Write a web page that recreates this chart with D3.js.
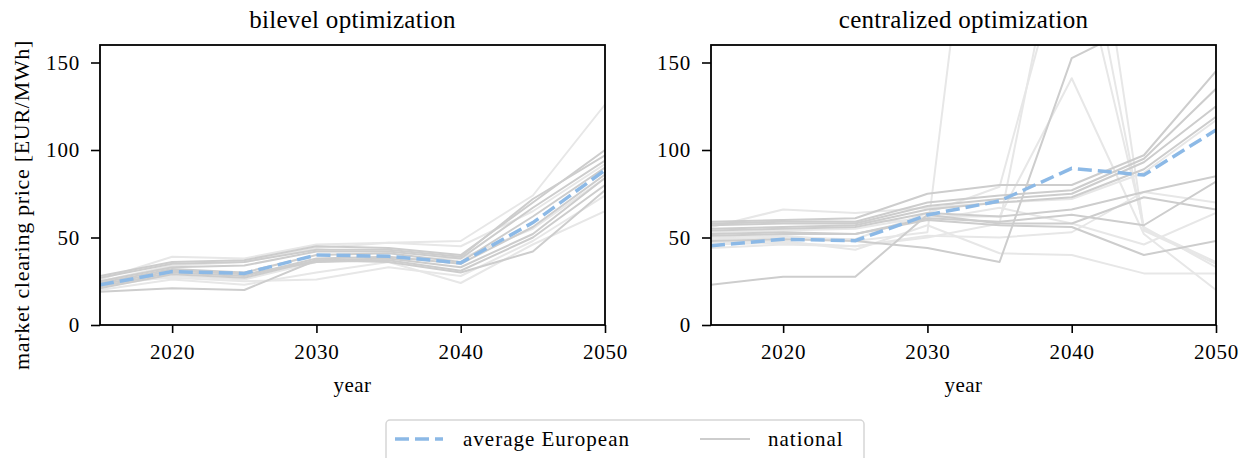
<!DOCTYPE html>
<html><head><meta charset="utf-8">
<script src="https://cdn.jsdelivr.net/npm/d3@7"></script>
<style>body{margin:0;background:#fff}svg{display:block}text{font-family:"Liberation Serif","DejaVu Serif",serif;fill:#000}</style>
</head><body><svg id="c" width="1246" height="458"></svg>
<script>
const years = [2015, 2020, 2025, 2030, 2035, 2040, 2045, 2050];
const xTicks = [2020, 2030, 2040, 2050];
const yTicks = [0, 50, 100, 150];
const panelTitles = ["bilevel optimization", "centralized optimization"];
const yLabel = "market clearing price [EUR/MWh]";
const xLabel = "year";
const legendLabels = ["average European", "national"];

// bilevel optimization
const avgBilevel = [23, 30.5, 29.5, 40, 39.3, 35.5, 58.5, 88.5];
const natBilevel = [
  [28, 36, 37, 45, 44, 40, 70, 100],
  [27, 35, 36, 43, 43, 39, 72, 97],
  [26, 39, 38, 46, 47, 48, 74, 126],
  [25, 33, 34, 42, 42, 38, 67, 94],
  [25, 34, 36, 44, 47, 45, 65, 92],
  [24, 32, 30, 40, 41, 36, 62, 90],
  [22, 30, 28, 38, 39, 35, 56, 86],
  [22, 28, 26, 36, 38, 38, 55, 84],
  [21, 29, 27, 37, 38, 33, 52, 84],
  [20, 26, 23, 30, 36, 24, 46, 65],
  [19, 21, 20, 37, 36, 30, 42, 77],
  [23, 31, 29, 36, 37, 31, 50, 80],
  [24, 27, 25, 26, 33, 28, 48, 74]
];
const shadeBilevel = [1, 1, 0, 1, 0, 1, 1, 0, 1, 0, 1, 1, 0];

// centralized optimization
const avgCentral = [45.3, 49, 48.2, 62.9, 70.9, 89.5, 85.7, 111.4];
const natCentral = [
  [59, 60, 61, 75, 80, 80, 97, 145],
  [58, 59, 59, 70, 74, 77, 95, 135],
  [57, 58, 58, 68, 72, 75, 93, 125],
  [55, 56, 57, 66, 70, 73, 89, 119],
  [56, 66, 64, 67, 70, 72, 87, 117],
  [54, 55, 56, 64, 62, 66, 76, 85],
  [52, 53, 52, 61, 59, 63, 57, 82],
  [51, 52, 52, 60, 57, 56, 40, 48],
  [50, 51, 48, 53, 388, 330, 55, 36],
  [49, 50, 49, 64, 79, 230, 56, 33],
  [48, 49, 48, 44, 36, 152.5, 173, 190],
  [47, 48, 43, 57, 41, 40, 29.5, 29.5],
  [23, 27.6, 27.6, 63, 58, 58, 73, 66],
  [53, 54, 55, 62, 62, 141, 52, 20],
  [46, 47, 45, 51, 50, 53, 76, 70],
  [44, 46, 45, 50, 58, 265, 54, 35],
  [57, 60, 59, 60, 67, 58, 46, 64]
];
const shadeCentral = [1, 1, 1, 1, 0, 1, 1, 1, 0, 0, 1, 0, 1, 0, 0, 0, 0];

const panels = [
  {title: panelTitles[0], avg: avgBilevel, nat: natBilevel, shade: shadeBilevel, left: 100},
  {title: panelTitles[1], avg: avgCentral, nat: natCentral, shade: shadeCentral, left: 711}
];

const svg = d3.select("#c");
const W = 505, topM = 45, H = 280;
const darkGray = "#cdcdcd", lightGray = "#e7e7e7", blue = "#8cb9e6";
const ff = '"Liberation Serif","DejaVu Serif",serif';

panels.forEach((p, i) => {
  const g = svg.append("g").attr("transform", `translate(${p.left},${topM})`);
  const x = d3.scaleLinear().domain([2015, 2050]).range([0, W]);
  const y = d3.scaleLinear().domain([0, 160]).range([H, 0]);
  const cid = "clip" + i;
  g.append("clipPath").attr("id", cid).append("rect").attr("width", W).attr("height", H);
  const line = d3.line().x((d, j) => x(years[j])).y(d => y(d));
  const lg = g.append("g").attr("clip-path", `url(#${cid})`);
  const order = d3.range(p.nat.length).sort((a, b) => p.shade[a] - p.shade[b]);
  order.forEach(k => {
    lg.append("path").datum(p.nat[k]).attr("d", line).attr("fill", "none")
      .attr("stroke", p.shade[k] ? darkGray : lightGray).attr("stroke-width", 2)
      .attr("stroke-linejoin", "round");
  });
  lg.append("path").datum(p.avg).attr("d", line).attr("fill", "none")
    .attr("stroke", blue).attr("stroke-width", 3.5).attr("stroke-dasharray", "14,6");

  const xa = g.append("g").attr("transform", `translate(0,${H})`)
    .call(d3.axisBottom(x).tickValues(xTicks).tickFormat(d3.format("d")).tickSize(8).tickPadding(11));
  const ya = g.append("g")
    .call(d3.axisLeft(y).tickValues(yTicks).tickSize(9).tickPadding(11));
  [xa, ya].forEach(a => {
    a.select(".domain").remove();
    a.selectAll("line").attr("stroke", "#000").attr("stroke-width", 1.6);
    a.selectAll("text").style("font-family", ff).style("font-size", "21px").style("letter-spacing", "0.8px");
  });
  g.append("rect").attr("width", W).attr("height", H).attr("fill", "none")
    .attr("stroke", "#000").attr("stroke-width", 1.8);
  g.append("text").attr("x", W / 2).attr("y", -17).attr("text-anchor", "middle")
    .style("font-size", "25px").style("letter-spacing", "0.3px").text(p.title);
  g.append("text").attr("x", W / 2).attr("y", H + 67).attr("text-anchor", "middle")
    .style("font-size", "21px").style("letter-spacing", "0.5px").text(xLabel);
  if (i === 0) {
    g.append("text").attr("transform", `translate(${-71},${H / 2 + 20}) rotate(-90)`)
      .attr("text-anchor", "middle").style("font-size", "22px").style("letter-spacing", "0.7px").text(yLabel);
  }
});

const leg = svg.append("g").attr("transform", "translate(386,420)");
leg.append("rect").attr("x", 0).attr("y", 0).attr("width", 478).attr("height", 48).attr("rx", 4)
  .attr("fill", "#fff").attr("stroke", "#d6d6d6").attr("stroke-width", 1.5);
leg.append("line").attr("x1", 9).attr("x2", 57).attr("y1", 19).attr("y2", 19)
  .attr("stroke", blue).attr("stroke-width", 3.5).attr("stroke-dasharray", "14,6");
leg.append("text").attr("x", 77).attr("y", 26).style("font-size", "21px").style("letter-spacing", "1px").text(legendLabels[0]);
leg.append("line").attr("x1", 314).attr("x2", 364).attr("y1", 19).attr("y2", 19)
  .attr("stroke", darkGray).attr("stroke-width", 2);
leg.append("text").attr("x", 382).attr("y", 26).style("font-size", "21px").style("letter-spacing", "1px").text(legendLabels[1]);
</script></body></html>
